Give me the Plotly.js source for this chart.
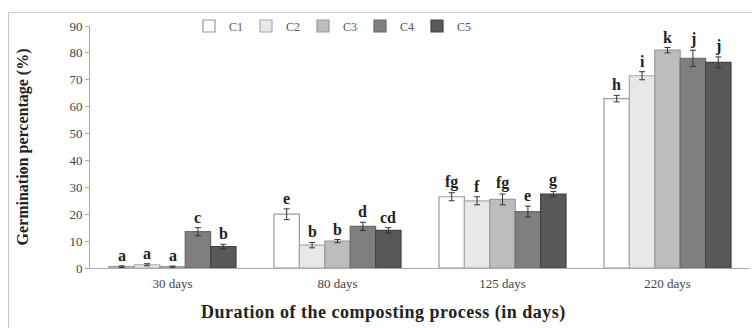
<!DOCTYPE html>
<html>
<head>
<meta charset="utf-8">
<script src="https://cdn.plot.ly/plotly-3.0.1.min.js"></script>
<style>
  html, body { margin: 0; padding: 0; background: #fff; }
  #wrap { position: relative; width: 752px; height: 328px; overflow: hidden; }
  #chart { position: absolute; left: 0; top: 0; width: 752px; height: 328px; }
  #frame { position: absolute; left: 8px; top: 12px; width: 800px; height: 400px;
           border: 1px solid #c8c8c8; pointer-events: none; z-index: 5; }
  .xtitle-ann text { letter-spacing: 0.5px; }
</style>
</head>
<body>
<div id="wrap">
  <div id="chart"></div>
  <div id="frame"></div>
</div>
<script>
const categories = ["30 days", "80 days", "125 days", "220 days"];
const seriesNames = ["C1", "C2", "C3", "C4", "C5"];

const c1 = [0.5, 20.0, 26.5, 63.0];
const c2 = [1.2, 8.5, 25.0, 71.5];
const c3 = [0.5, 10.0, 25.5, 81.0];
const c4 = [13.5, 15.5, 21.0, 78.0];
const c5 = [8.0, 14.0, 27.5, 76.5];

const e1 = [0.3, 2.0, 1.5, 1.2];
const e2 = [0.4, 1.0, 1.5, 1.5];
const e3 = [0.2, 0.6, 2.0, 1.0];
const e4 = [1.5, 1.5, 2.0, 3.0];
const e5 = [0.8, 1.0, 1.0, 2.0];

const l1 = ["a", "e", "fg", "h"];
const l2 = ["a", "b", "f", "i"];
const l3 = ["a", "b", "fg", "k"];
const l4 = ["c", "d", "e", "j"];
const l5 = ["b", "cd", "g", "j"];

const xTitle = "Duration of the composting process (in days)";
const yTitle = "Germination percentage (%)";

const values = [c1, c2, c3, c4, c5];
const errors = [e1, e2, e3, e4, e5];
const letters = [l1, l2, l3, l4, l5];
const fills = ["#ffffff", "#e8e8e8", "#bdbdbd", "#7f7f7f", "#585858"];
const outlines = ["#9a9a9a", "#a8a8a8", "#9a9a9a", "#6a6a6a", "#444444"];

const bargap = 0.23;
const serif = "Liberation Serif, Times New Roman, serif";

const traces = seriesNames.map((name, i) => ({
  type: "bar",
  name: name,
  x: categories,
  y: values[i],
  marker: { color: fills[i], line: { color: outlines[i], width: 1.2 } },
  error_y: { type: "data", array: errors[i], visible: true, color: "#333", thickness: 1, width: 3 }
}));

const annotations = [];
const slot = (1 - bargap) / seriesNames.length;
seriesNames.forEach((name, i) => {
  categories.forEach((cat, j) => {
    annotations.push({
      x: j + (i - (seriesNames.length - 1) / 2) * slot,
      y: values[i][j] + errors[i][j],
      xref: "x", yref: "y",
      text: letters[i][j],
      showarrow: false,
      yanchor: "bottom",
      yshift: 0,
      font: { family: serif, size: 16, color: "#222", weight: "bold" }
    });
  });
});
annotations.push({
  text: xTitle, xref: "paper", yref: "paper",
  x: 0.444, y: -0.182, xanchor: "center", yanchor: "middle",
  showarrow: false,
  font: { family: serif, size: 18, color: "#222", weight: "bold" }
});

const layout = {
  width: 752, height: 328,
  margin: { l: 90, r: 2, t: 26, b: 60 },
  paper_bgcolor: "#ffffff",
  plot_bgcolor: "#ffffff",
  barmode: "group",
  bargap: bargap,
  bargroupgap: 0,
  showlegend: true,
  legend: {
    orientation: "h",
    x: 0.15, y: 1.0, xanchor: "left", yanchor: "middle",
    font: { family: serif, size: 12, color: "#555" },
    entrywidth: 12,
    entrywidthmode: "pixels",
    itemwidth: 30,
    tracegroupgap: 0,
    bgcolor: "rgba(0,0,0,0)"
  },
  xaxis: {
    type: "category",
    showline: true, linecolor: "#aaaaaa", linewidth: 1,
    ticks: "", showgrid: false,
    tickfont: { family: serif, size: 13, color: "#444" },
    ticklabelstandoff: 3
  },
  yaxis: {
    range: [0, 90], dtick: 10,
    showline: true, linecolor: "#aaaaaa", linewidth: 1,
    ticks: "outside", ticklen: 4, tickcolor: "#aaaaaa",
    showgrid: false, zeroline: false,
    tickfont: { family: serif, size: 13, color: "#444" },
    title: { text: yTitle, standoff: 36,
             font: { family: serif, size: 16, color: "#222", weight: "bold" } }
  },
  annotations: annotations
};

Plotly.newPlot("chart", traces, layout, { staticPlot: true, displayModeBar: false }).then(() => {
  const anns = document.querySelectorAll("#chart .annotation");
  const last = anns[anns.length - 1];
  if (last) last.classList.add("xtitle-ann");
  const clips = document.querySelectorAll("#chart .legend, #chart .legend .scrollbox");
  clips.forEach(el => el.removeAttribute("clip-path"));
});
</script>
</body>
</html>
